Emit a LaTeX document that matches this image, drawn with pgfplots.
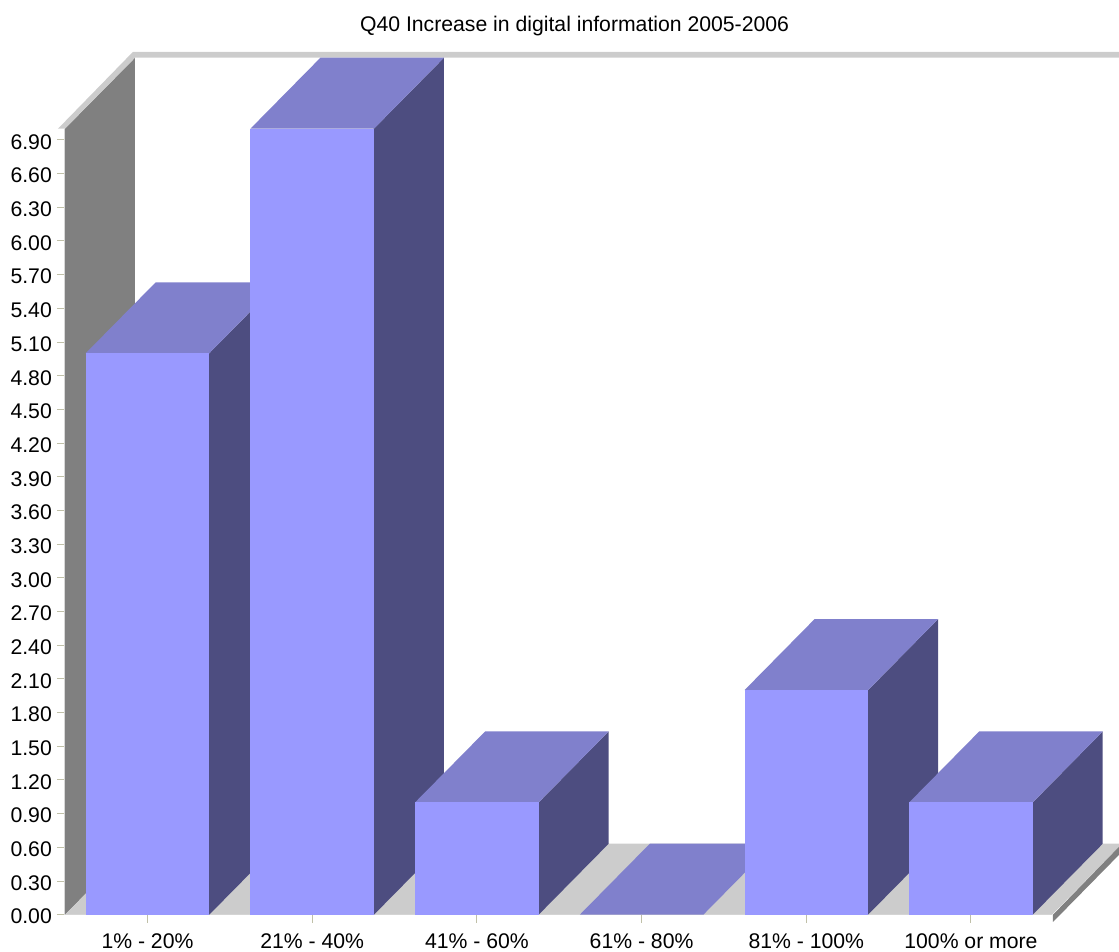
\documentclass[border=0pt]{standalone}
\usepackage{fontspec}
\setmainfont{Liberation Sans}
\usepackage{pgfplots}
\pgfplotsset{compat=1.18}
\definecolor{front}{HTML}{9999FF}
\definecolor{topf}{HTML}{8080CC}
\definecolor{sidef}{HTML}{4D4D80}
\definecolor{wallc}{HTML}{808080}
\definecolor{floorc}{HTML}{CCCCCC}
\definecolor{tickc}{HTML}{C0C0A8}
\definecolor{linec}{HTML}{E4E4E4}
\begin{document}
\begin{tikzpicture}
\useasboundingbox (-65pt,-37.3pt) rectangle (1054pt,914.7pt);
\begin{axis}[
  at={(0pt,0pt)}, anchor=south west,
  scale only axis, width=987pt, height=786pt,
  xmin=-0.5009, xmax=5.492, ymin=0, ymax=7,
  clip=false,
  axis x line*=bottom, axis y line*=left,
  axis line style={draw=linec, line width=1pt},
  tick align=outside, major tick length=8pt,
  tick style={draw=tickc, line width=1pt},
  xtick={0,1,2,3,4,5},
  xticklabels={1\% - 20\%, 21\% - 40\%, 41\% - 60\%, 61\% - 80\%, 81\% - 100\%, 100\% or more},
  ytick={0,0.3,0.6,0.9,1.2,1.5,1.8,2.1,2.4,2.7,3.0,3.3,3.6,3.9,4.2,4.5,4.8,5.1,5.4,5.7,6.0,6.3,6.6,6.9},
  /pgf/number format/assume math mode=true,
  /pgf/number format/.cd, fixed, fixed zerofill, precision=2, /pgfplots/.cd,
  tick label style={font=\fontsize{21.2}{25}\selectfont, inner sep=0pt},
  yticklabel style={xshift=-5pt, yshift=-2pt},
  xticklabel style={yshift=-11pt},
]
% walls and floor
\addplot[fill=wallc, draw=none] coordinates {(-0.5009,0)(-0.5009,7)(-0.0759,7.632)(-0.0759,0.632)} --cycle;
\addplot[fill=floorc, draw=none] coordinates {(-0.5009,0)(5.492,0)(5.917,0.632)(-0.0759,0.632)} --cycle;
\addplot[fill=wallc, draw=none] coordinates {(5.498,0)(5.498,-0.065)(5.917,0.56)(5.917,0.632)} --cycle;
\addplot[fill=floorc, draw=none] coordinates {(-0.5434,7)(-0.0884,7.684)(5.92,7.684)(5.92,7.632)(-0.0759,7.632)(-0.5009,7)} --cycle;
% bar 1
\addplot[fill=sidef, draw=none] coordinates {(0.37,0)(0.375,0)(0.8,0.632)(0.8,5.632)(0.375,5)(0.37,5)} --cycle;
\addplot[fill=topf, draw=none] coordinates {(-0.375,5)(0.375,5)(0.8,5.632)(0.05,5.632)} --cycle;
\addplot[ybar, bar width=123.4pt, bar shift=0pt, fill=front, draw=none] coordinates {(0,5)};
% bar 2
\addplot[fill=sidef, draw=none] coordinates {(1.37,0)(1.375,0)(1.8,0.632)(1.8,7.632)(1.375,7)(1.37,7)} --cycle;
\addplot[fill=topf, draw=none] coordinates {(0.625,7)(1.375,7)(1.8,7.632)(1.05,7.632)} --cycle;
\addplot[ybar, bar width=123.4pt, bar shift=0pt, fill=front, draw=none] coordinates {(1,7)};
% bar 3
\addplot[fill=sidef, draw=none] coordinates {(2.37,0)(2.375,0)(2.8,0.632)(2.8,1.632)(2.375,1)(2.37,1)} --cycle;
\addplot[fill=topf, draw=none] coordinates {(1.625,1)(2.375,1)(2.8,1.632)(2.05,1.632)} --cycle;
\addplot[ybar, bar width=123.4pt, bar shift=0pt, fill=front, draw=none] coordinates {(2,1)};
% bar 4
\addplot[fill=topf, draw=none] coordinates {(2.625,0)(3.375,0)(3.8,0.632)(3.05,0.632)} --cycle;
% bar 5
\addplot[fill=sidef, draw=none] coordinates {(4.37,0)(4.375,0)(4.8,0.632)(4.8,2.632)(4.375,2)(4.37,2)} --cycle;
\addplot[fill=topf, draw=none] coordinates {(3.625,2)(4.375,2)(4.8,2.632)(4.05,2.632)} --cycle;
\addplot[ybar, bar width=123.4pt, bar shift=0pt, fill=front, draw=none] coordinates {(4,2)};
% bar 6
\addplot[fill=sidef, draw=none] coordinates {(5.37,0)(5.375,0)(5.8,0.632)(5.8,1.632)(5.375,1)(5.37,1)} --cycle;
\addplot[fill=topf, draw=none] coordinates {(4.625,1)(5.375,1)(5.8,1.632)(5.05,1.632)} --cycle;
\addplot[ybar, bar width=123.4pt, bar shift=0pt, fill=front, draw=none] coordinates {(5,1)};
\node[anchor=base, font=\fontsize{21.2}{25}\selectfont, inner sep=0pt] at (axis cs:2.593,7.87) {Q40 Increase in digital information 2005-2006};
\end{axis}
\end{tikzpicture}
\end{document}
